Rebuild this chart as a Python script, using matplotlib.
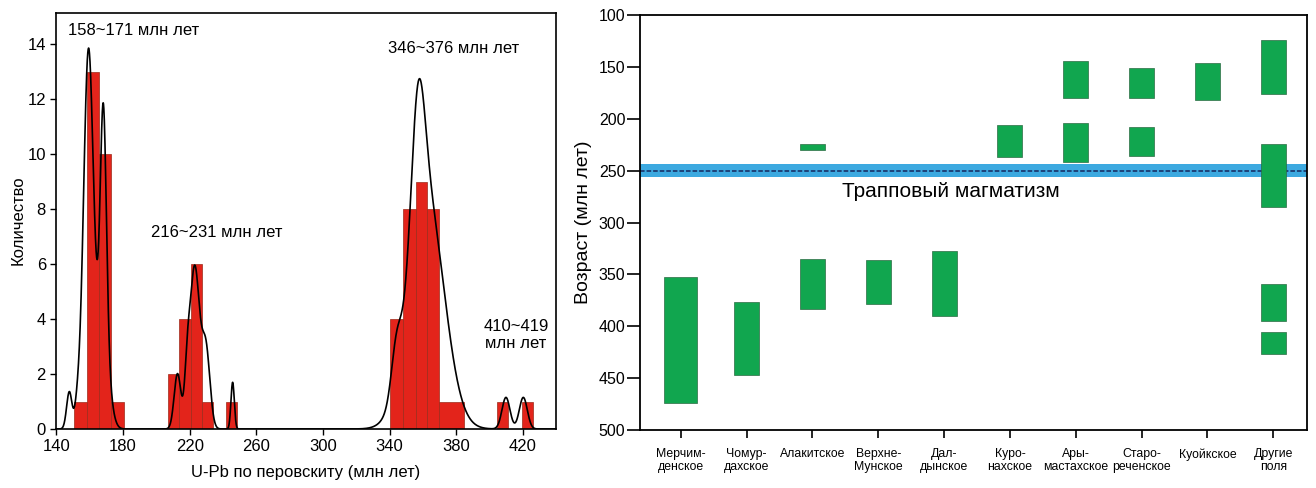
import numpy as np
import matplotlib
matplotlib.use("Agg")
import matplotlib.pyplot as plt

plt.rcParams['font.family'] = ['Liberation Sans', 'DejaVu Sans']

# ---------------- Left panel data: histogram of U-Pb perovskite ages ----------------
hist_left = [150.8, 158.2, 165.8, 172.8,
             207.2, 213.8, 220.6, 227.2, 241.8,
             340.2, 348.2, 355.6, 362.6, 369.8,
             404.3, 419.2]
hist_right = [158.2, 165.8, 172.8, 180.8,
              213.8, 220.6, 227.2, 234.2, 248.6,
              348.2, 355.6, 362.6, 369.8, 384.8,
              411.2, 426.2]
hist_counts = [1, 13, 10, 1,
               2, 4, 6, 1, 1,
               4, 8, 9, 8, 1,
               1, 1]

# probability-density curve, described by its peaks (centre, height, spread)
kde_centers = [147.8, 152.5, 159.3, 168.2, 168.0,
               212.7, 218.5, 223.0, 229.8, 245.8,
               357.0, 362.0, 344.0,
               409.8, 420.2]
kde_heights = [1.35, 0.6, 13.7, 8.2, 3.5,
               2.0, 1.4, 5.9, 2.8, 1.7,
               5.0, 8.5, 1.5,
               1.15, 1.15]
kde_sigmas = [1.6, 1.5, 3.0, 1.8, 3.5,
              2.0, 1.5, 3.0, 2.4, 1.0,
              4.0, 10.5, 3.0,
              2.4, 2.4]

peak_labels = ["158~171 млн лет", "216~231 млн лет", "346~376 млн лет", "410~419\nмлн лет"]
left_xticks = [140, 180, 220, 260, 300, 340, 380, 420]
left_yticks = [0, 2, 4, 6, 8, 10, 12, 14]

# ---------------- Right panel data: age ranges per kimberlite field ----------------
fields = ["Мерчим-\nденское", "Чомур-\nдахское", "Алакитское", "Верхне-\nМунское", "Дал-\nдынское",
          "Куро-\nнахское", "Ары-\nмастахское", "Старо-\nреченское", "Куойкское", "Другие\nполя"]
seg_field = [0, 1, 2, 2, 3, 4, 5, 6, 6, 7, 7, 8, 9, 9, 9, 9]
seg_young = [353, 377, 224, 335, 336, 327, 206, 144, 204, 151, 208, 146, 124, 224, 359, 406]
seg_old = [474, 447, 230, 383, 379, 390, 237, 180, 242, 180, 236, 182, 176, 285, 395, 427]
trap_age = 250
trap_band = [244, 256]
trap_label = "Трапповый магматизм"
right_yticks = [100, 150, 200, 250, 300, 350, 400, 450, 500]

W, H = 1316, 488
fig = plt.figure(figsize=(W / 100, H / 100), dpi=100)

# ---------------- Left panel ----------------
axL = fig.add_axes([56.3 / W, (H - 429) / H, 500 / W, 416 / H])
lefts = np.array(hist_left)
rights = np.array(hist_right)
axL.bar(lefts, hist_counts, width=rights - lefts, align='edge',
        color='#E3241B', edgecolor='#9c2a1a', linewidth=0.5, zorder=2)
xs = np.linspace(140, 440, 3000)
dens = np.zeros_like(xs)
for c, h, s in zip(kde_centers, kde_heights, kde_sigmas):
    dens += h * np.exp(-(xs - c) ** 2 / (2 * s ** 2))
axL.plot(xs, dens, color='black', lw=1.2, zorder=3)
axL.set_xlim(140, 440)
axL.set_ylim(0, 15.14)
axL.set_xticks(left_xticks)
axL.set_yticks(left_yticks)
axL.tick_params(direction='out', length=4.5, width=1, labelsize=12, pad=3)
for sp in axL.spines.values():
    sp.set_linewidth(1.2)
axL.text(147.0, 14.49, peak_labels[0], fontsize=12, ha='left', va='center')
axL.text(196.6, 7.16, peak_labels[1], fontsize=12, ha='left', va='center')
axL.text(339.0, 13.85, peak_labels[2], fontsize=12, ha='left', va='center')
axL.text(415.8, 3.42, peak_labels[3], fontsize=12, ha='center', va='center',
         multialignment='center', linespacing=1.15)
fig.text(18 / W, 1 - 220 / H, "Количество", rotation=90, fontsize=12, ha='center', va='center')
fig.text(306 / W, 1 - 472 / H, "U-Pb по перовскиту (млн лет)", fontsize=12, ha='center', va='center')

# ---------------- Right panel ----------------
axR = fig.add_axes([640 / W, (H - 430) / H, 666.7 / W, 415 / H])
axR.axhspan(trap_band[0], trap_band[1], color='#3CA9E0', lw=0, zorder=1)
axR.axhline(trap_age, color='#16275e', lw=1.1, ls=(0, (3, 1.3)), zorder=2)
widths = [0.5 if f == 0 else 0.38 for f in seg_field]
axR.bar(seg_field, np.array(seg_old) - np.array(seg_young), bottom=seg_young, width=widths,
        color='#11A64F', edgecolor='#2c6b43', linewidth=0.5, zorder=3)
axR.text(4.1, 270.3, trap_label, fontsize=15, ha='center', va='center', zorder=4)
axR.set_ylim(500, 100)
axR.set_xlim(-0.618, 9.507)
axR.set_yticks(right_yticks)
axR.set_xticks(range(len(fields)))
axR.set_xticklabels(fields, fontsize=8.8, linespacing=1.1)
axR.tick_params(axis='y', direction='out', length=9.5, width=1.2, labelsize=11.5, pad=1)
axR.tick_params(axis='x', direction='out', length=6, width=1.2, pad=7)
for sp in axR.spines.values():
    sp.set_linewidth(1.3)
fig.text(583 / W, 1 - 222 / H, "Возраст (млн лет)", rotation=90, fontsize=14, ha='center', va='center')

fig.savefig("out.png", dpi=100)
